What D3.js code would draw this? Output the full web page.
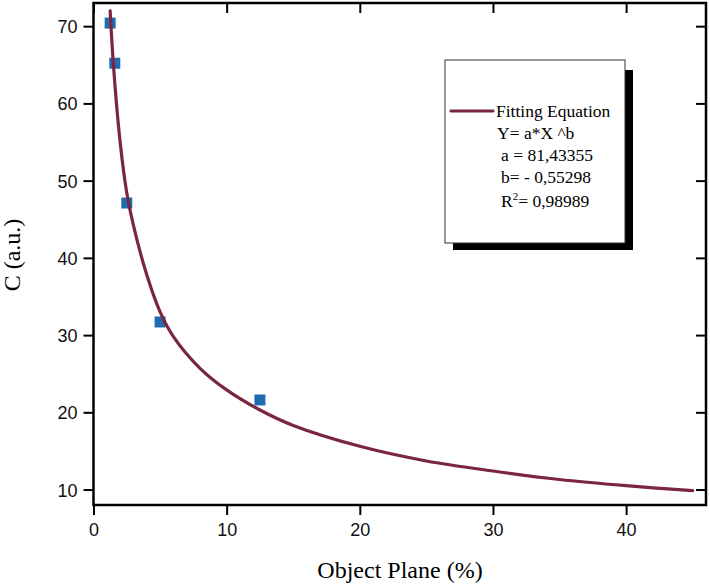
<!DOCTYPE html>
<html>
<head>
<meta charset="utf-8">
<script src="https://cdn.jsdelivr.net/npm/d3@7"></script>
<style>
	body { margin: 0; background: #fff; }
	.tick text { font-family: "Liberation Sans", Arial, sans-serif; font-size: 18px; fill: #111; }
	.axis_title { font-family: "Liberation Serif", "Times New Roman", serif; font-size: 24px; fill: #000; }
	.legend_txt { font-family: "Liberation Serif", "Times New Roman", serif; font-size: 17.5px; fill: #000; }
</style>
</head>
<body>
<div id="chart"></div>
<script>
// measured points
var pointX = [1.25, 1.6, 2.5, 5, 12.5];
var pointY = [70.4, 65.2, 47.1, 31.7, 21.6];

// fitted curve
var fitX = [1.25, 1.5, 2, 2.5, 3, 4, 5, 6, 8, 10, 12.5, 15, 20, 25, 30, 35, 40, 45];
var fitY = [72.0, 64.9, 55.0, 48.4, 44.2, 37.8, 33.0, 29.8, 25.7, 22.9, 20.3, 18.3, 15.6, 13.7, 12.4, 11.3, 10.5, 9.85];

var xTicks = [0, 10, 20, 30, 40];
var yTicks = [10, 20, 30, 40, 50, 60, 70];

var legendLines = ['Y= a*X ^b', 'a = 81,43355', 'b= - 0,55298'];

var cfg = {
	w: 710,
	h: 585,
	mTop: 3,
	mRight: 4,
	mBottom: 80,
	mLeft: 93.5,
	curveColor: '#7b2641',
	pointColor: '#1f6cb0'
};

var width = cfg.w - (cfg.mLeft + cfg.mRight),
	height = cfg.h - (cfg.mTop + cfg.mBottom);

var x = d3.scaleLinear().domain([0, 46]).range([0, width]);
var y = d3.scaleLinear().domain([8, 73]).range([height, 0]);

var svg = d3.select('#chart').append('svg')
	.attr('width', cfg.w)
	.attr('height', cfg.h)
	.append('g')
	.attr('transform', 'translate(' + cfg.mLeft + ',' + cfg.mTop + ')');

// axes
function styleAxis(g) {
	g.select('.domain').remove();
	g.selectAll('.tick line').attr('stroke', '#000').attr('stroke-width', 2);
}

svg.append('g')
	.attr('transform', 'translate(0,' + height + ')')
	.call(d3.axisBottom(x).tickValues(xTicks).tickSize(10).tickPadding(8))
	.call(styleAxis);

svg.append('g')
	.call(d3.axisLeft(y).tickValues(yTicks).tickSize(10).tickPadding(6))
	.call(styleAxis)
	.selectAll('.tick text').attr('dy', '0.36em');

// mirror ticks inside, top and right
svg.append('g')
	.call(d3.axisTop(x).tickValues(xTicks).tickSize(-10).tickFormat(''))
	.call(styleAxis);

svg.append('g')
	.attr('transform', 'translate(' + width + ',0)')
	.call(d3.axisRight(y).tickValues(yTicks).tickSize(-10).tickFormat(''))
	.call(styleAxis);

// frame
svg.append('rect')
	.attr('x', 0)
	.attr('y', 0)
	.attr('width', width)
	.attr('height', height)
	.attr('fill', 'none')
	.attr('stroke', '#000')
	.attr('stroke-width', 2.5);

// fit curve
var fitData = fitX.map(function(d, i) { return [d, fitY[i]]; });
var line = d3.line()
	.x(function(d) { return x(d[0]); })
	.y(function(d) { return y(d[1]); })
	.curve(d3.curveCatmullRom.alpha(0.5));

// points
var sq = 11;
svg.append('g')
	.selectAll('rect')
	.data(pointX.map(function(d, i) { return [d, pointY[i]]; }))
	.enter()
	.append('rect')
	.attr('x', function(d) { return x(d[0]) - sq / 2; })
	.attr('y', function(d) { return y(d[1]) - sq / 2; })
	.attr('width', sq)
	.attr('height', sq)
	.attr('fill', cfg.pointColor);

svg.append('path')
	.datum(fitData)
	.attr('d', line)
	.attr('fill', 'none')
	.attr('stroke', cfg.curveColor)
	.attr('stroke-width', 3.2)
	.attr('stroke-linecap', 'round');

// legend box with shadow (page coords)
var root = d3.select('#chart svg');
var lg = root.append('g');
lg.append('rect')
	.attr('x', 453).attr('y', 70)
	.attr('width', 180).attr('height', 180)
	.attr('fill', '#000');
lg.append('rect')
	.attr('x', 445).attr('y', 60)
	.attr('width', 180).attr('height', 183)
	.attr('fill', '#fff')
	.attr('stroke', '#333')
	.attr('stroke-width', 1);
lg.append('line')
	.attr('x1', 451).attr('x2', 493)
	.attr('y1', 111).attr('y2', 111)
	.attr('stroke', cfg.curveColor)
	.attr('stroke-width', 3.2)
	.attr('stroke-linecap', 'round');
lg.append('text')
	.classed('legend_txt', true)
	.attr('x', 496).attr('y', 117)
	.text('Fitting Equation');
lg.selectAll('.leg_line')
	.data(legendLines)
	.enter()
	.append('text')
	.classed('legend_txt', true)
	.attr('x', function(d, i) { return i === 0 ? 497 : 501; })
	.attr('y', function(d, i) { return 139 + i * 22; })
	.text(function(d) { return d; });
var r2 = lg.append('text')
	.classed('legend_txt', true)
	.attr('x', 501).attr('y', 207);
r2.append('tspan').text('R');
r2.append('tspan').attr('dy', -7).style('font-size', '11px').text('2');
r2.append('tspan').attr('dy', 7).text('= 0,98989');

// axis titles
root.append('text')
	.classed('axis_title', true)
	.attr('text-anchor', 'middle')
	.attr('transform', 'translate(20,255) rotate(-90)')
	.text('C (a.u.)');

root.append('text')
	.classed('axis_title', true)
	.attr('text-anchor', 'middle')
	.attr('x', 400)
	.attr('y', 578)
	.text('Object Plane (%)');
</script>
</body>
</html>
